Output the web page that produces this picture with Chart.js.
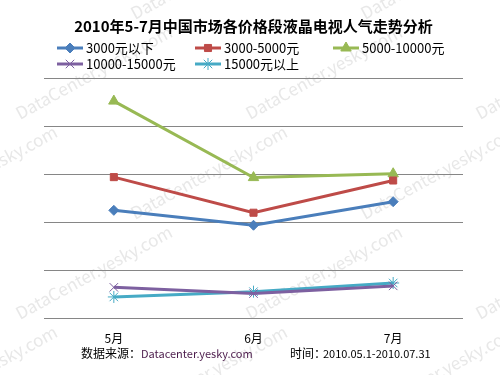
<!DOCTYPE html>
<html lang="zh-CN">
<head>
    <meta charset="UTF-8">
    <title>2010年5-7月中国市场各价格段液晶电视人气走势分析</title>
    <script src="https://cdn.jsdelivr.net/npm/chart.js"></script>
    <style>
        body { margin: 0; padding: 0; background: #fff; }
    </style>
</head>
<body>
<canvas id="lineChart" width="500" height="375"></canvas>
<script>
    // 数据
    var months = ['5月', '6月', '7月'];
    var s3000 = [22.5, 19.4, 24.3];
    var s3000_5000 = [29.4, 22.0, 28.7];
    var s5000_10000 = [45.2, 29.3, 30.1];
    var s10000_15000 = [6.5, 5.2, 6.8];
    var s15000 = [4.5, 5.6, 7.4];
    var seriesNames = ['3000元以下', '3000-5000元', '5000-10000元', '10000-15000元', '15000元以上'];
    var yMax = 50;

    var cjk = '"Noto Sans CJK SC", "DejaVu Sans", sans-serif';

    function ds(label, data, color, style, r) {
        return {
            label: label, data: data, borderColor: color, backgroundColor: color,
            borderWidth: 3, pointStyle: style, pointRadius: r, pointHoverRadius: r,
            pointBorderWidth: 1, tension: 0
        };
    }

    // 水印 + 图例 + 底部说明
    var extras = {
        id: 'extras',
        beforeDraw: function (chart) {
            var c = chart.ctx;
            c.save();
            c.fillStyle = '#fff';
            c.fillRect(0, 0, chart.width, chart.height);
            c.fillStyle = '#e8e8e8';
            c.font = '17px ' + cjk;
            for (var row = -1; row < 5; row++) {
                for (var col = -1; col < 3; col++) {
                    c.save();
                    c.translate(col * 230 + (row % 2) * 115 + 20, row * 100 + 120);
                    c.rotate(-0.5);
                    c.fillText('DataCenter.yesky.com', 0, 0);
                    c.restore();
                }
            }
            c.restore();
        },
        afterDraw: function (chart) {
            var c = chart.ctx, a = chart.chartArea;
            c.save();
            // 顶部网格线
            var ty = Math.round(chart.scales.y.getPixelForValue(yMax)) + 0.5;
            c.strokeStyle = '#868686';
            c.lineWidth = 1;
            c.beginPath(); c.moveTo(a.left, ty); c.lineTo(a.right, ty); c.stroke();
            // 图例
            var cols = [57, 195, 333];
            var rows = [48, 64];
            chart.data.datasets.forEach(function (d, i) {
                var x = cols[i % 3], y = rows[Math.floor(i / 3)];
                c.strokeStyle = d.borderColor;
                c.lineWidth = 3;
                c.beginPath(); c.moveTo(x, y); c.lineTo(x + 26, y); c.stroke();
                c.fillStyle = d.borderColor;
                c.lineWidth = 1;
                Chart.helpers.drawPoint(c, {
                    pointStyle: d.pointStyle, radius: d.pointRadius, borderWidth: 1
                }, x + 13, y);
                c.fillStyle = '#000';
                c.font = '13px ' + cjk;
                c.textBaseline = 'middle';
                c.fillText(d.label, x + 29, y);
            });
            // 底部
            c.font = '12px ' + cjk;
            c.textBaseline = 'middle';
            c.fillStyle = '#000';
            c.fillText('数据来源：', 81, 353);
            c.fillStyle = '#4b1b4b';
            c.font = '11px ' + cjk;
            c.fillText('Datacenter.yesky.com', 141, 354);
            c.fillStyle = '#000';
            c.font = '12px ' + cjk;
            c.fillText('时间：', 290, 353);
            c.font = '11px ' + cjk;
            c.fillText('2010.05.1-2010.07.31', 323, 354);
            c.restore();
        }
    };

    var ctx = document.getElementById('lineChart').getContext('2d');
    var lineChart = new Chart(ctx, {
        type: 'line',
        data: {
            labels: months,
            datasets: [
                ds(seriesNames[0], s3000, '#4a7ebb', 'rectRot', 5),
                ds(seriesNames[1], s3000_5000, '#be4b48', 'rect', 5),
                ds(seriesNames[2], s5000_10000, '#98b954', 'triangle', 6),
                ds(seriesNames[3], s10000_15000, '#7d60a0', 'crossRot', 6),
                ds(seriesNames[4], s15000, '#46aac5', 'star', 6)
            ]
        },
        options: {
            responsive: false,
            animation: false,
            layout: { padding: { left: 44, right: 37, bottom: 16 } },
            plugins: {
                legend: { display: false },
                tooltip: { enabled: false },
                title: {
                    display: true,
                    text: '2010年5-7月中国市场各价格段液晶电视人气走势分析',
                    color: '#000',
                    font: { family: cjk, size: 15, weight: 'bold' },
                    padding: { top: 17, bottom: 43 }
                }
            },
            scales: {
                x: {
                    offset: true,
                    grid: { display: false, drawTicks: false },
                    border: { display: false },
                    ticks: { color: '#000', font: { family: cjk, size: 12 }, padding: 13 }
                },
                y: {
                    min: 0, max: yMax,
                    ticks: { display: false, stepSize: 10 },
                    border: { display: false },
                    grid: { color: '#868686', lineWidth: 1, drawTicks: false }
                }
            }
        },
        plugins: [extras]
    });
</script>
</body>
</html>
